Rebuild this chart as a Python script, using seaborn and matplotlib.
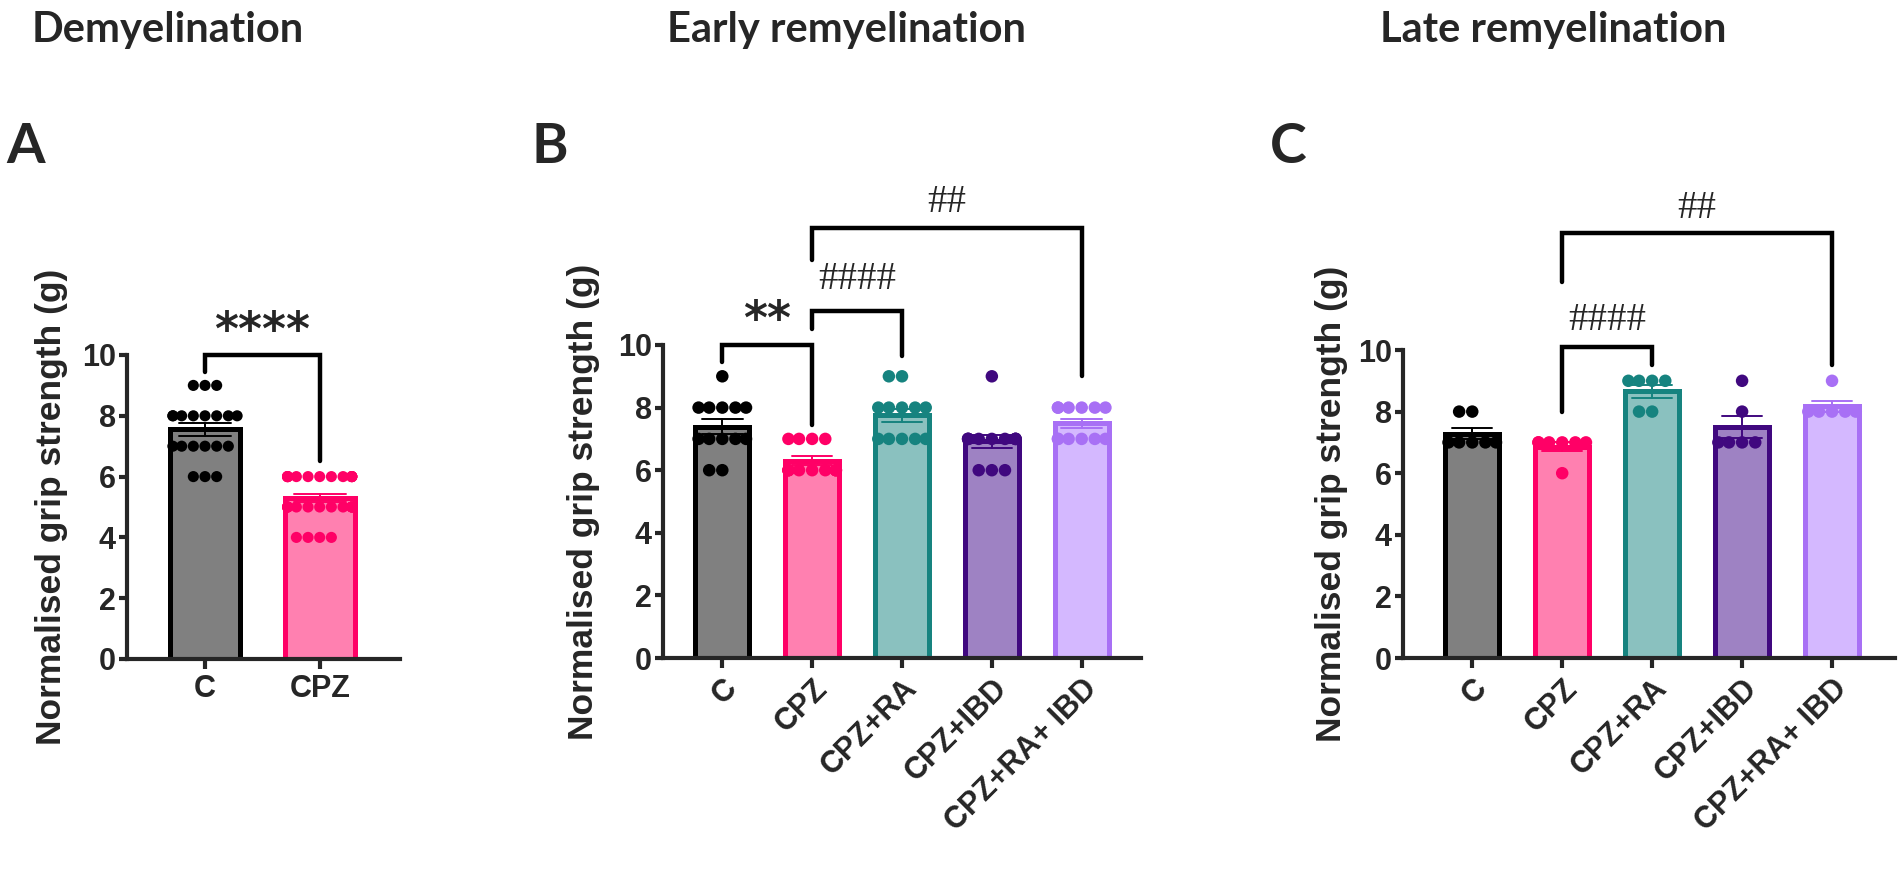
import numpy as np
import pandas as pd
import matplotlib
matplotlib.use("Agg")
import matplotlib.pyplot as plt
import seaborn as sns
import seaborn.categorical as scat

sns.set_style("ticks")
plt.rcParams['font.family'] = ['Liberation Sans', 'DejaVu Sans']
plt.rcParams['font.weight'] = 'bold'
plt.rcParams['axes.labelweight'] = 'bold'

W, H = 1902, 875

# ---------------- data ----------------
groups_A = ["C", "CPZ"]
groups_BC = ["C", "CPZ", "CPZ+RA", "CPZ+IBD", "CPZ+RA+ IBD"]

A_C = [9, 9, 9, 8, 8, 8, 8, 8, 8, 8, 8, 7, 7, 7, 7, 7, 7, 6, 6, 6]
A_CPZ = [6, 6, 6, 6, 6, 6, 6, 6, 6, 6, 6, 6, 6,
         5, 5, 5, 5, 5, 5, 5, 5, 5, 5, 5, 5, 5,
         4, 4, 4, 4]

B_C = [9, 8, 8, 8, 8, 8, 7, 7, 7, 7, 7, 6, 6]
B_CPZ = [7, 7, 7, 7, 6, 6, 6, 6, 6, 6, 6, 6, 6]
B_RA = [9, 9, 8, 8, 8, 8, 8, 7, 7, 7, 7, 7]
B_IBD = [9, 7, 7, 7, 7, 7, 7, 7, 7, 7, 6, 6, 6]
B_RAIBD = [8, 8, 8, 8, 8, 8, 7, 7, 7, 7, 7, 7]

C_C = [8, 8, 7, 7, 7, 7, 7]
C_CPZ = [7, 7, 7, 7, 7, 7, 6]
C_RA = [9, 9, 9, 9, 8, 8]
C_IBD = [9, 8, 7, 7, 7, 7]
C_RAIBD = [9, 8, 8, 8, 8, 8]

titles = ["Demyelination", "Early remyelination", "Late remyelination"]
panel_letters = ["A", "B", "C"]
ylabel = "Normalised grip strength (g)"
yticks = [0, 2, 4, 6, 8, 10]

fill_colors = {"C": "#808080", "CPZ": "#FF80B0", "CPZ+RA": "#8AC1BF",
               "CPZ+IBD": "#9E82C3", "CPZ+RA+ IBD": "#D4B8FF"}
edge_colors = {"C": "#000000", "CPZ": "#FF0066", "CPZ+RA": "#16837F",
               "CPZ+IBD": "#40087F", "CPZ+RA+ IBD": "#A870F5"}

# swarm spread control (seaborn Beeswarm width scaling so rows stay in the bar)
SWARM = {"scale": 1.0}
_orig_bs_init = scat.Beeswarm.__init__


def _bs_init(self, orient="x", width=0.8, warn_thresh=.05):
    _orig_bs_init(self, orient=orient, width=width * SWARM["scale"], warn_thresh=warn_thresh)


scat.Beeswarm.__init__ = _bs_init

# ---------------- figure ----------------
fig = plt.figure(figsize=(W / 100, H / 100), dpi=100)


def px_axes(x0, x1, y_zero, y_top):
    return fig.add_axes([x0 / W, (H - y_zero) / H, (x1 - x0) / W, (y_zero - y_top) / H])


def draw_panel(ax, groups, lists, bar_w, msize, xlim, rotate, swarm_scale, lpad):
    df = pd.DataFrame({
        "group": [g for g, vals in zip(groups, lists) for _ in vals],
        "value": [v for vals in lists for v in vals],
    })
    sns.barplot(data=df, x="group", y="value", order=groups, hue="group",
                hue_order=groups, palette=fill_colors, saturation=1,
                errorbar="se", capsize=0.45, width=bar_w, linewidth=3.6,
                legend=False, err_kws={"linewidth": 1.4, "zorder": 4}, ax=ax)
    for patch, g in zip(ax.patches, groups):
        patch.set_edgecolor(edge_colors[g])
    for line in ax.lines:
        xd = np.asarray(line.get_xdata(), dtype=float)
        idx = int(np.clip(np.round(np.nanmean(xd)), 0, len(groups) - 1))
        line.set_color(edge_colors[groups[idx]])
    SWARM["scale"] = swarm_scale
    sns.swarmplot(data=df, x="group", y="value", order=groups, hue="group",
                  hue_order=groups, palette=edge_colors, size=msize,
                  linewidth=0, legend=False, zorder=3, warn_thresh=1.0, ax=ax)
    ax.set_xlim(*xlim)
    ax.set_ylim(0, 10)
    ax.set_yticks(yticks)
    ax.set_yticklabels([str(t) for t in yticks])
    ax.set_xticks(range(len(groups)))
    if rotate:
        ax.set_xticklabels(groups, rotation=45, ha="right", rotation_mode="anchor")
    else:
        ax.set_xticklabels(groups)
    sns.despine(ax=ax)
    for s in ("left", "bottom"):
        ax.spines[s].set_linewidth(3)
    ax.tick_params(axis="y", width=3, length=6, labelsize=22, pad=2)
    ax.tick_params(axis="x", width=3, length=7, labelsize=22, pad=4)
    ax.set_xlabel("")
    ax.set_ylabel(ylabel, fontsize=25.5, fontweight="bold", labelpad=lpad)


def bracket(ax, x1, x2, y, yl, yr, text, ty, hashes):
    ax.plot([x1, x1, x2, x2], [yl, y, y, yr], color="black", lw=3.2,
            solid_joinstyle="miter", clip_on=False, zorder=5)
    if hashes:
        ax.text((x1 + x2) / 2, ty, text, ha="center", va="center",
                fontsize=28, family="Liberation Serif", fontweight="normal")
    else:
        ax.text((x1 + x2) / 2, ty, text, ha="center", va="center",
                fontsize=33, family="DejaVu Sans", fontweight="bold")


axA = px_axes(127, 400, 659, 355)
draw_panel(axA, groups_A, [A_C, A_CPZ], 0.61, 8, (-0.68, 1.7), False, 0.70, 10)
bracket(axA, 0, 1, 10.0, 9.45, 6.5, "****", 10.75, False)

axB = px_axes(663, 1141, 658, 345)
draw_panel(axB, groups_BC, [B_C, B_CPZ, B_RA, B_IBD, B_RAIBD], 0.6, 9,
           (-0.66, 4.66), True, 0.66, 13)
bracket(axB, 0, 1, 10.0, 9.45, 7.45, "**", 10.75, False)
bracket(axB, 1, 2, 11.1, 10.5, 9.65, "####", 12.1, True)
bracket(axB, 1, 4, 13.75, 12.7, 9.0, "##", 14.55, True)

axC = px_axes(1403, 1895, 658, 350)
draw_panel(axC, groups_BC, [C_C, C_CPZ, C_RA, C_IBD, C_RAIBD], 0.6, 9,
           (-0.77, 4.7), True, 0.66, 7)
bracket(axC, 1, 2, 10.1, 8.0, 9.5, "####", 10.95, True)
bracket(axC, 1, 4, 13.8, 12.2, 9.5, "##", 14.6, True)

# titles and panel letters
for x, t in zip([32, 667, 1380], titles):
    fig.text(x / W, 1 - 42 / H, t, family="Lato", fontweight="bold",
             fontsize=30, va="baseline", ha="left")
for x, t in zip([6, 531, 1270], panel_letters):
    fig.text(x / W, 1 - 163 / H, t, family="Lato", fontweight="bold",
             fontsize=40, va="baseline", ha="left")

fig.savefig("out.png", dpi=100, facecolor="white")
